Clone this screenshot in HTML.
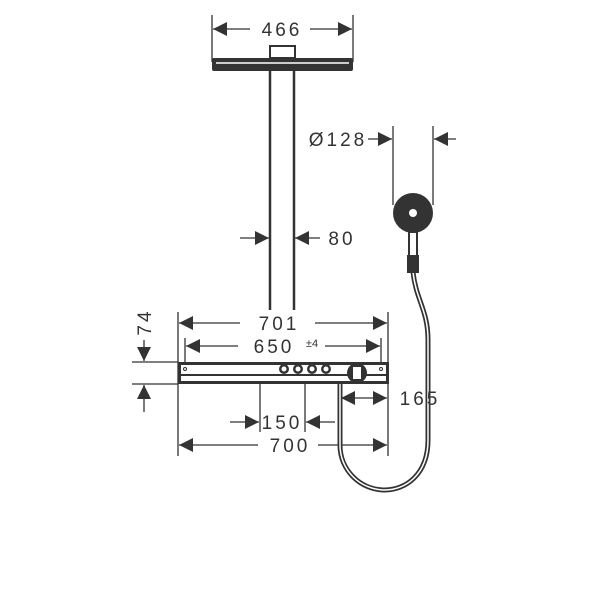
<!DOCTYPE html>
<html><head><style>body{margin:0;background:#fff}svg{display:block}text{font-family:"Liberation Sans",sans-serif;fill:#333}</style></head><body>
<svg width="600" height="600" viewBox="0 0 600 600" xmlns="http://www.w3.org/2000/svg">
<defs>
<marker id="a" viewBox="0 0 10 10" refX="10" refY="5" markerWidth="14" markerHeight="14" markerUnits="userSpaceOnUse" orient="auto"><path d="M0,0L10,5L0,10z" fill="#333"/></marker>
</defs>
<g stroke="#333" stroke-width="1.3" fill="none">
<!-- 466 -->
<line x1="212" y1="15" x2="212" y2="62"/><line x1="353" y1="15" x2="353" y2="62"/>
<line x1="250" y1="29" x2="213" y2="29" marker-end="url(#a)"/><line x1="310" y1="29" x2="352" y2="29" marker-end="url(#a)"/>
<!-- 80 -->
<line x1="240" y1="238" x2="269" y2="238" marker-end="url(#a)"/><line x1="320" y1="238" x2="295" y2="238" marker-end="url(#a)"/>
<!-- 128 -->
<line x1="393" y1="126" x2="393" y2="205"/><line x1="433" y1="126" x2="433" y2="205"/>
<line x1="368" y1="139" x2="392" y2="139" marker-end="url(#a)"/><line x1="456" y1="139" x2="434" y2="139" marker-end="url(#a)"/>
<!-- 701/700 ext -->
<line x1="178" y1="312" x2="178" y2="456"/><line x1="388" y1="312" x2="388" y2="456"/>
<line x1="185" y1="338" x2="185" y2="362"/><line x1="381" y1="338" x2="381" y2="362"/>
<line x1="240" y1="323" x2="179" y2="323" marker-end="url(#a)"/><line x1="315" y1="323" x2="387" y2="323" marker-end="url(#a)"/>
<line x1="238" y1="346" x2="186" y2="346" marker-end="url(#a)"/><line x1="325" y1="346" x2="380" y2="346" marker-end="url(#a)"/>
<line x1="258" y1="445" x2="179" y2="445" marker-end="url(#a)"/><line x1="318" y1="445" x2="387" y2="445" marker-end="url(#a)"/>
<!-- 74 -->
<line x1="132" y1="362" x2="178" y2="362"/><line x1="132" y1="384" x2="178" y2="384"/>
<line x1="144" y1="340" x2="144" y2="361" marker-end="url(#a)"/><line x1="144" y1="412" x2="144" y2="385" marker-end="url(#a)"/>
<!-- 150 -->
<line x1="260" y1="366" x2="260" y2="432"/><line x1="305" y1="366" x2="305" y2="432"/>
<line x1="230" y1="422" x2="259" y2="422" marker-end="url(#a)"/><line x1="335" y1="422" x2="306" y2="422" marker-end="url(#a)"/>
<!-- 165 -->
<line x1="365" y1="398" x2="341" y2="398" marker-end="url(#a)"/><line x1="365" y1="398" x2="387" y2="398" marker-end="url(#a)"/>
</g>
<!-- head -->
<rect x="270" y="46" width="25" height="12" fill="none" stroke="#333" stroke-width="2"/>
<rect x="212" y="58" width="141" height="13" rx="2" fill="#333"/>
<line x1="216" y1="63" x2="349" y2="63" stroke="#fff" stroke-width="1.5"/>
<!-- pipe -->
<line x1="270" y1="71" x2="270" y2="310" stroke="#333" stroke-width="2.5"/>
<line x1="294" y1="71" x2="294" y2="310" stroke="#333" stroke-width="2.5"/>
<!-- hose -->
<path d="M413,272 C416,300 428,310 428,340 L428,440 C428,475 405,490 385,490 C360,490 340,470 340,445 L340,380" fill="none" stroke="#333" stroke-width="5"/>
<path d="M413,272 C416,300 428,310 428,340 L428,440 C428,475 405,490 385,490 C360,490 340,470 340,445 L340,380" fill="none" stroke="#fff" stroke-width="1.5"/>
<!-- hand shower -->
<circle cx="413" cy="213" r="20" fill="#333"/>
<circle cx="413" cy="213" r="4" fill="#fff"/>
<rect x="409" y="232" width="8" height="24" fill="none" stroke="#333" stroke-width="2"/>
<rect x="407" y="255" width="12" height="18" fill="#333"/>
<!-- bar -->
<rect x="178" y="362" width="211" height="22" fill="#333"/>
<rect x="181" y="365" width="205" height="9" fill="#fff"/>
<rect x="181" y="376" width="205" height="5" fill="#fff"/>
<g fill="#333"><circle cx="284" cy="369" r="5"/><circle cx="298" cy="369" r="5"/><circle cx="312" cy="369" r="5"/><circle cx="326" cy="369" r="5"/><circle cx="357" cy="373" r="10"/></g>
<g fill="#fff"><circle cx="284" cy="369" r="2.5"/><circle cx="298" cy="369" r="2.5"/><circle cx="312" cy="369" r="2.5"/><circle cx="326" cy="369" r="2.5"/><rect x="353" y="367" width="8" height="12"/></g>
<circle cx="185" cy="369" r="1.5" fill="none" stroke="#333"/><circle cx="381" cy="369" r="1.5" fill="none" stroke="#333"/>
<!-- texts -->
<g font-size="19" text-anchor="middle" letter-spacing="3">
<text x="282" y="36">466</text>
<text x="342" y="245">80</text>
<text x="338" y="146">Ø128</text>
<text x="279" y="330">701</text>
<text x="274" y="353">650</text>
<text x="282" y="429">150</text>
<text x="420" y="405">165</text>
<text x="290" y="452">700</text>
<text transform="translate(151,322) rotate(-90)">74</text>
</g>
<text x="312" y="347" font-size="11" text-anchor="middle">±4</text>
</svg>
</body></html>
